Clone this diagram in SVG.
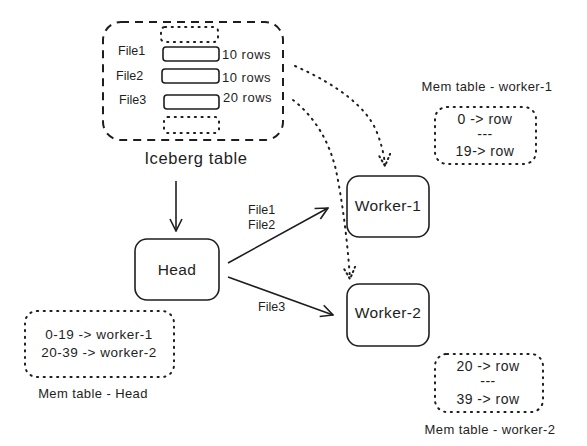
<svg xmlns="http://www.w3.org/2000/svg" width="587" height="446" viewBox="0 0 587 446">
<defs>
<style>
text{font-family:"Liberation Sans","DejaVu Sans",sans-serif;fill:#1e1e1e}
.f{font-size:12.5px}
.rows{font-size:13px;letter-spacing:0.5px}
.node{font-size:15.5px;letter-spacing:0.4px}
.title{font-size:16.5px;letter-spacing:0.6px}
.ml{font-size:13px;letter-spacing:0.4px}
.me{font-size:13.5px;letter-spacing:0.5px}
.mr{font-size:14px;letter-spacing:0.5px}
.solid{fill:none;stroke:#1e1e1e;stroke-width:1.6}
.dash{fill:none;stroke:#1e1e1e;stroke-width:2;stroke-dasharray:8 6}
.dot{fill:none;stroke:#1e1e1e;stroke-width:2;stroke-dasharray:1.2 5.5;stroke-linecap:round}
.conn{fill:none;stroke:#1e1e1e;stroke-width:1.6}
</style>
<marker id="ah" viewBox="0 0 14 14" refX="13" refY="7" markerWidth="14" markerHeight="14" markerUnits="userSpaceOnUse" orient="auto">
<path d="M1 1 L13 7 L1 13" fill="none" stroke="#1e1e1e" stroke-width="1.6"/>
</marker>
<marker id="ahd" viewBox="0 0 14 14" refX="13" refY="7" markerWidth="14" markerHeight="14" markerUnits="userSpaceOnUse" orient="auto">
<path d="M1 1 L13 7 L1 13" fill="none" stroke="#1e1e1e" stroke-width="2" stroke-dasharray="1.2 3.5" stroke-linecap="round"/>
</marker>
</defs>

<g id="iceberg">
<rect class="dash" x="103" y="22" width="180" height="118" rx="18"/>
<rect class="dot" x="161" y="27" width="57" height="15" rx="4"/>
<rect class="solid" x="163" y="47" width="56" height="14" rx="3"/>
<rect class="solid" x="162" y="69" width="57" height="14" rx="3"/>
<rect class="solid" x="164" y="95" width="55" height="14" rx="3"/>
<rect class="dot" x="164" y="117" width="55" height="16" rx="4"/>
<text class="f" x="118" y="55">File1</text>
<text class="f" x="116" y="80">File2</text>
<text class="f" x="119" y="104">File3</text>
<text class="rows" x="222" y="59">10 rows</text>
<text class="rows" x="222" y="82">10 rows</text>
<text class="rows" x="223" y="102">20 rows</text>
<text class="title" x="196" y="164" text-anchor="middle">Iceberg table</text>
</g>

<g id="head">
<rect class="solid" x="135" y="239" width="84" height="61" rx="12"/>
<text class="node" x="177" y="275" text-anchor="middle">Head</text>
</g>

<g id="worker-1">
<rect class="solid" x="347" y="176" width="82" height="61" rx="12"/>
<text class="node" x="388" y="211" text-anchor="middle">Worker-1</text>
</g>

<g id="worker-2">
<rect class="solid" x="347" y="284" width="82" height="62" rx="12"/>
<text class="node" x="388" y="318" text-anchor="middle">Worker-2</text>
</g>

<g id="mem-head">
<rect class="dot" x="25" y="311" width="149" height="66" rx="12"/>
<text class="me" x="99" y="339" text-anchor="middle">0-19 -&gt; worker-1</text>
<text class="me" x="99" y="357" text-anchor="middle">20-39 -&gt; worker-2</text>
<text class="ml" x="93" y="398" text-anchor="middle">Mem table - Head</text>
</g>

<g id="mem-worker-1">
<text class="ml" x="487" y="91" text-anchor="middle">Mem table - worker-1</text>
<rect class="dot" x="435" y="107" width="101" height="57" rx="12"/>
<text class="mr" x="485" y="124" text-anchor="middle">0 -&gt; row</text>
<text class="mr" x="485" y="139" text-anchor="middle">---</text>
<text class="mr" x="485" y="156" text-anchor="middle">19-&gt; row</text>
</g>

<g id="mem-worker-2">
<rect class="dot" x="435" y="354" width="108" height="58" rx="12"/>
<text class="mr" x="488" y="371" text-anchor="middle">20 -&gt; row</text>
<text class="mr" x="488" y="386" text-anchor="middle">---</text>
<text class="mr" x="488" y="404" text-anchor="middle">39 -&gt; row</text>
<text class="ml" x="490" y="434" text-anchor="middle">Mem table - worker-2</text>
</g>

<g id="connectors">
<path class="conn" d="M176 181 L176 231" marker-end="url(#ah)"/>
<path class="conn" d="M228 263 L328 208" marker-end="url(#ah)"/>
<path class="conn" d="M228 277 L333 315" marker-end="url(#ah)"/>
<path class="dot" d="M295 66 Q360 95 376 130 Q384 150 385 166" marker-end="url(#ahd)"/>
<path class="dot" d="M293 100 Q325 125 336 170 Q346 220 350 279" marker-end="url(#ahd)"/>
<text class="f" x="248" y="214">File1</text>
<text class="f" x="248" y="229">File2</text>
<text class="f" x="258" y="311">File3</text>
</g>
</svg>
